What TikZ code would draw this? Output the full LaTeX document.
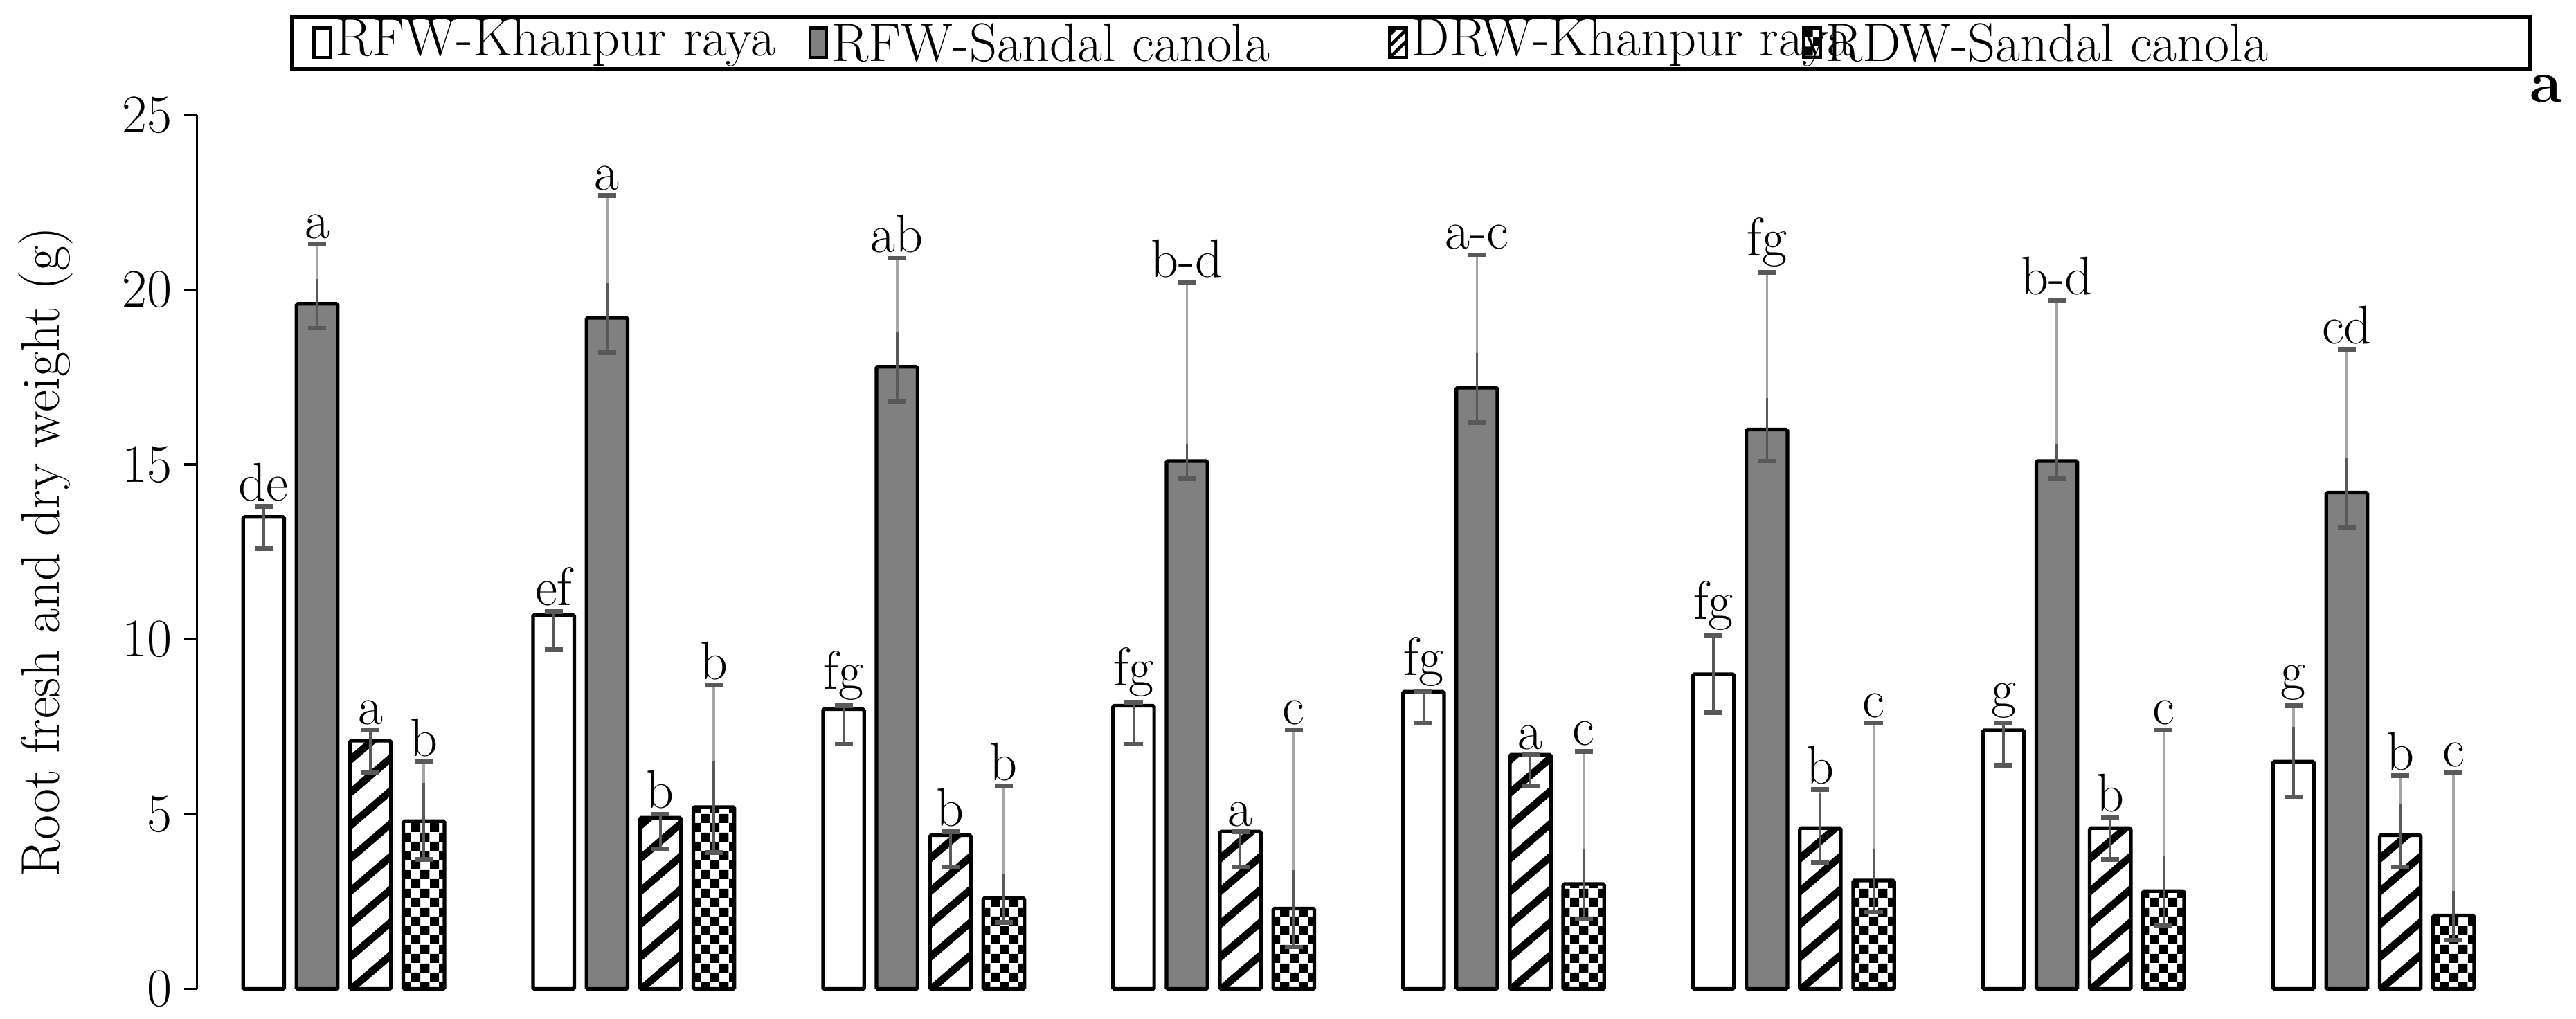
\documentclass[tikz,border=0pt]{standalone}
\usetikzlibrary{patterns}
\begin{document}
\begin{tikzpicture}[x=1pt,y=-1pt,
  txt/.style={font=\fontsize{33}{36}\selectfont, inner sep=1pt},
  barline/.style={line width=2.2pt, rounded corners=0.8pt},
  errdark/.style={draw=black!65, line width=1.5pt},
  errlight/.style={draw=black!35, line width=1.5pt},
  ecap/.style={draw=black!65, line width=2.8pt}]
\useasboundingbox (0,0) rectangle (1568,620);
% y axis
\draw[line width=1.4pt] (120,70) -- (120,602);
\foreach \v in {0,5,...,25}{
  \draw[line width=1.4pt] (112,{602-21.28*\v}) -- (120,{602-21.28*\v});
  \node[txt, anchor=east] (t\v) at (106,{602-21.28*\v}) {\v};
}
\node[txt, rotate=90] (ylab) at (28,336) {Root fresh and dry weight (g)};
\node[font=\fontsize{36}{38}\selectfont\bfseries] (pa) at (1550,54) {a};
% bars
\foreach \g/\k/\v/\lo/\hi/\lab in {
 0/0/13.5/12.6/13.8/de, 0/1/19.6/18.9/21.3/a, 0/2/7.1/6.2/7.4/a, 0/3/4.8/3.7/6.5/b,
 1/0/10.7/9.7/10.8/ef, 1/1/19.2/18.2/22.7/a, 1/2/4.9/4.0/5.0/b, 1/3/5.2/3.9/8.7/b,
 2/0/8.0/7.0/8.1/fg, 2/1/17.8/16.8/20.9/ab, 2/2/4.4/3.5/4.5/b, 2/3/2.6/1.9/5.8/b,
 3/0/8.1/7.0/8.2/fg, 3/1/15.1/14.6/20.2/b-d, 3/2/4.5/3.5/4.5/a, 3/3/2.3/1.2/7.4/c,
 4/0/8.5/7.6/8.5/fg, 4/1/17.2/16.2/21.0/a-c, 4/2/6.7/5.8/6.7/a, 4/3/3.0/2.0/6.8/c,
 5/0/9.0/7.9/10.1/fg, 5/1/16.0/15.1/20.5/fg, 5/2/4.6/3.6/5.7/b, 5/3/3.1/2.2/7.6/c,
 6/0/7.4/6.4/7.6/g, 6/1/15.1/14.6/19.7/b-d, 6/2/4.6/3.7/4.9/b, 6/3/2.8/1.8/7.4/c,
 7/0/6.5/5.5/8.1/g, 7/1/14.2/13.2/18.3/cd, 7/2/4.4/3.5/6.1/b, 7/3/2.1/1.4/6.2/c}{
  \pgfmathsetmacro\xl{148+176.5*\g+32.5*\k}
  \pgfmathsetmacro\xr{\xl+25}
  \pgfmathsetmacro\xc{\xl+12.5}
  \pgfmathsetmacro\yt{602-21.28*\v}
  \pgfmathsetmacro\ylo{602-21.28*\lo}
  \pgfmathsetmacro\yhi{602-21.28*\hi}
  \pgfmathsetmacro\ymid{max(\yhi,602-21.28*(2*\v-\lo))}
  \ifcase\k
    \filldraw[barline, fill=white] (\xl,602) rectangle (\xr,\yt);
  \or
    \filldraw[barline, fill=black!50] (\xl,602) rectangle (\xr,\yt);
  \or
    \begin{scope}
      \clip (\xl,602) rectangle (\xr,\yt);
      \foreach \t in {0,20,...,520}{
        \draw[line width=4.5pt] (\xl-5,602-\t+5) -- (\xr+5,602-\t-25);}
    \end{scope}
    \draw[barline] (\xl,602) rectangle (\xr,\yt);
  \or
    \fill[pattern=checkerboard] (\xl,602) rectangle (\xr,\yt);
    \draw[barline] (\xl,602) rectangle (\xr,\yt);
  \fi
  \draw[errlight] (\xc,\ymid) -- (\xc,\yhi);
  \draw[errdark] (\xc,\ylo) -- (\xc,\ymid);
  \draw[ecap] (\xc-5.5,\ylo) -- (\xc+5.5,\ylo);
  \draw[ecap] (\xc-5.5,\yhi) -- (\xc+5.5,\yhi);
  \node[txt, anchor=south] (l\g\k) at (\xc,\yhi-2) {\lab};
}
% legend
\draw[line width=2.5pt] (178,10) rectangle (1540,42);
\draw[line width=2pt, fill=white] (191,17) rectangle (201,35);
\node[txt, anchor=west] (e1) at (203,26) {RFW-Khanpur raya};
\draw[line width=2pt, fill=black!50] (493,17) rectangle (503,35);
\node[txt, anchor=west] (e2) at (505,26) {RFW-Sandal canola};
\begin{scope}
 \clip (846,17) rectangle (856,35);
 \foreach \t in {0,7,...,28}{\draw[line width=2pt] (844,37-\t) -- (858,23-\t);}
\end{scope}
\draw[line width=2pt] (846,17) rectangle (856,35);
\node[txt, anchor=west] (e3) at (858,26) {DRW-Khanpur raya};
\fill[pattern=checkerboard] (1098,17) rectangle (1108,35);
\draw[line width=2pt] (1098,17) rectangle (1108,35);
\node[txt, anchor=west] (e4) at (1110,26) {RDW-Sandal canola};
\end{tikzpicture}
\end{document}
